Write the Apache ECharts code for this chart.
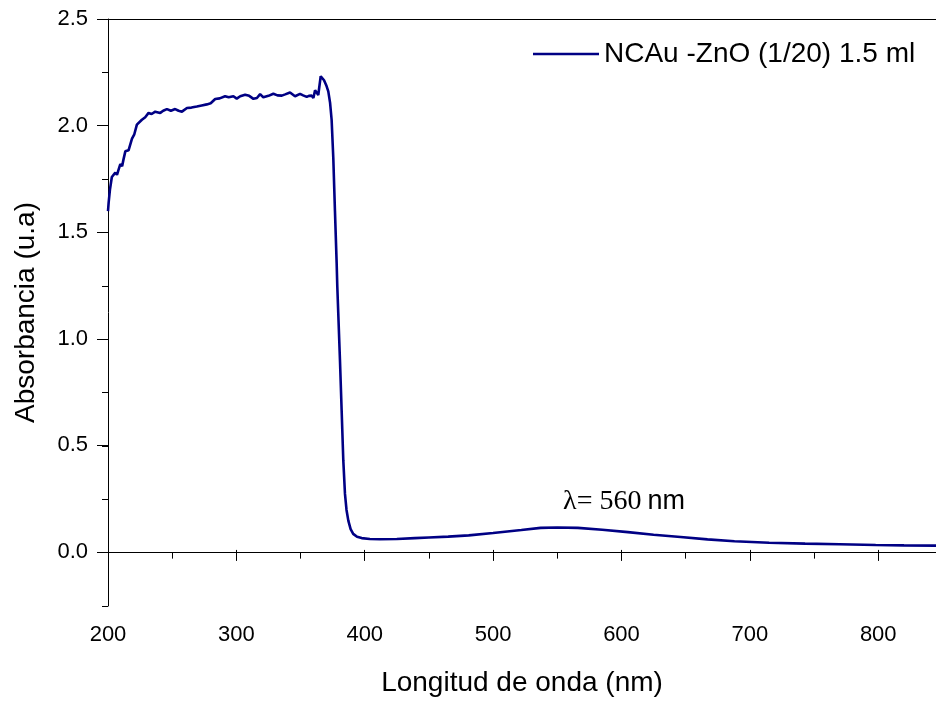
<!DOCTYPE html>
<html>
<head>
<meta charset="utf-8">
<script src="https://cdn.jsdelivr.net/npm/echarts@6/dist/echarts.min.js"></script>
<style>
html,body{margin:0;padding:0;background:#fff;}
#chart{width:936px;height:702px;}
</style>
</head>
<body>
<div id="chart"></div>
<script>
// 数据：波长(nm) 与 吸光度
const wavelength = [
	200, 200.5, 201.5, 203, 205.7, 207, 208, 209.6, 211, 212,
	213.5, 216, 218.7, 220.5, 222.5, 226.4, 229, 231.6, 234, 236.8,
	240.7, 243, 245.9, 249, 252.3, 255, 257.6, 261.5, 265, 269.2,
	273, 277, 280, 283.5, 287, 291.2, 294, 297.7, 300.3, 303,
	306.8, 310, 313.3, 316, 318.5, 321, 325, 328.8, 332, 335.4,
	338, 341.8, 345.7, 349.6, 352, 354.8, 356.5, 358.7, 360, 361.3,
	362.5, 363.8, 365.7, 367, 368.3, 370, 371.6, 373, 374.2, 375.5,
	376.8, 378.1, 378.6, 380.7, 382, 383.3, 384.6, 385.8, 387.2, 389,
	391, 394, 397.6, 404, 411.8, 425, 439, 450, 465, 481,
	500, 522, 537, 550, 566, 585, 605, 625, 646, 667,
	688, 715, 743, 770, 798, 820, 845
];
const absorbance = [
	1.60, 1.64, 1.70, 1.76, 1.78, 1.77, 1.79, 1.82, 1.81, 1.84,
	1.88, 1.885, 1.94, 1.96, 2.005, 2.028, 2.04, 2.06, 2.055, 2.066,
	2.06, 2.07, 2.078, 2.07, 2.078, 2.07, 2.066, 2.083, 2.085, 2.09,
	2.095, 2.10, 2.105, 2.125, 2.128, 2.138, 2.133, 2.138, 2.127, 2.138,
	2.145, 2.14, 2.126, 2.13, 2.148, 2.133, 2.14, 2.15, 2.142, 2.141,
	2.147, 2.156, 2.138, 2.149, 2.142, 2.135, 2.14, 2.141, 2.13, 2.166,
	2.16, 2.144, 2.232, 2.225, 2.213, 2.19, 2.161, 2.107, 2.028, 1.85,
	1.60, 1.36, 1.25, 0.901, 0.667, 0.432, 0.275, 0.20, 0.15, 0.11,
	0.088, 0.074, 0.068, 0.064, 0.063, 0.064, 0.068, 0.071, 0.075, 0.081,
	0.092, 0.106, 0.116, 0.118, 0.116, 0.107, 0.096, 0.084, 0.073, 0.062,
	0.053, 0.046, 0.042, 0.039, 0.036, 0.034, 0.033
];
const seriesName = 'NCAu -ZnO (1/20) 1.5 ml';
const peakLabel = ['λ= 560', 'nm'];
const peakLabelAt = [602, 0.24];

const X_MIN = 200, X_MAX = 845;
const Y_MIN = -0.25, Y_MAX = 2.5;
const FONT = '"Liberation Sans", Arial, sans-serif';
const LINE_COLOR = '#000084';

let points = [];
for (let i = 0; i < wavelength.length; i++) {
	points.push([wavelength[i], absorbance[i]]);
}

let myChart = echarts.init(document.getElementById('chart'));
let option = {
	animation: false,
	backgroundColor: '#fff',
	textStyle: { fontFamily: FONT },
	grid: [
		{ left: 108, top: 19, right: 0, bottom: 96 },
		// 只用于y刻度标签（0.0 ~ 2.5）
		{ left: 108, top: 19, right: 0, bottom: 150 },
		// 只用于x主刻度与标签
		{ left: 108, top: 19, right: 0, bottom: 96 }
	],
	legend: {
		left: 533,
		top: 40,
		padding: 0,
		icon: 'rect',
		itemWidth: 66,
		itemHeight: 2.5,
		itemGap: 8,
		textStyle: { fontSize: 28, color: '#000', fontFamily: FONT, padding: [0, 0, 0, 0] },
		data: [seriesName]
	},
	xAxis: [
		{
			gridIndex: 0,
			type: 'value',
			min: X_MIN,
			max: X_MAX,
			interval: 50,
			position: 'bottom',
			axisLine: { show: true, lineStyle: { color: '#000', width: 1 } },
			axisTick: { show: true, length: 6, lineStyle: { color: '#000' } },
			axisLabel: { show: false },
			splitLine: { show: false }
		},
		{
			gridIndex: 0,
			type: 'value',
			min: X_MIN,
			max: X_MAX,
			position: 'top',
			axisLine: { show: true, lineStyle: { color: '#000', width: 1 } },
			axisTick: { show: false },
			axisLabel: { show: false },
			splitLine: { show: false }
		},
		{
			gridIndex: 1,
			type: 'value',
			min: X_MIN,
			max: X_MAX,
			show: false
		},
		{
			gridIndex: 2,
			type: 'value',
			min: X_MIN,
			max: X_MAX,
			interval: 100,
			position: 'bottom',
			name: 'Longitud de onda (nm)',
			nameLocation: 'middle',
			nameGap: 66,
			nameTextStyle: { fontSize: 28, color: '#000', fontFamily: FONT },
			axisLine: { show: false },
			axisTick: { show: true, length: 11, lineStyle: { color: '#000' } },
			axisLabel: {
				fontSize: 22,
				color: '#000',
				margin: 21,
				fontFamily: FONT,
				showMaxLabel: false,
				formatter: function (v) { return v % 100 === 0 ? String(v) : ''; }
			},
			splitLine: { show: false }
		}
	],
	yAxis: [
		{
			gridIndex: 0,
			type: 'value',
			min: Y_MIN,
			max: Y_MAX,
			interval: 0.25,
			name: 'Absorbancia (u.a)',
			nameLocation: 'middle',
			nameGap: 68,
			nameTextStyle: { fontSize: 28, color: '#000', fontFamily: FONT },
			axisLine: { show: true, lineStyle: { color: '#000', width: 1 } },
			axisTick: { show: true, length: 6, lineStyle: { color: '#000' } },
			axisLabel: { show: false },
			splitLine: { show: false }
		},
		{
			gridIndex: 1,
			type: 'value',
			min: 0,
			max: Y_MAX,
			interval: 0.5,
			axisLine: { show: false },
			axisTick: { show: true, length: 11, lineStyle: { color: '#000' } },
			axisLabel: {
				fontSize: 22,
				color: '#000',
				margin: 20,
				fontFamily: FONT,
				formatter: function (v) { return v.toFixed(1); }
			},
			splitLine: { show: false }
		},
		{
			gridIndex: 2,
			type: 'value',
			min: Y_MIN,
			max: Y_MAX,
			show: false
		}
	],
	series: [
		{
			name: seriesName,
			type: 'line',
			xAxisIndex: 0,
			yAxisIndex: 0,
			data: points,
			symbol: 'none',
			smooth: false,
			lineStyle: { color: LINE_COLOR, width: 2.6 },
			itemStyle: { color: LINE_COLOR },
			markPoint: {
				symbol: 'circle',
				symbolSize: 0,
				silent: true,
				label: {
					show: true,
					position: 'inside',
					fontSize: 22,
					formatter: '{a|' + peakLabel[0] + '} {b|' + peakLabel[1] + '}',
					rich: {
						a: { fontFamily: '"Liberation Serif", "Times New Roman", serif', fontSize: 28, color: '#000' },
						b: { fontFamily: FONT, fontSize: 27, color: '#000' }
					}
				},
				data: [{ coord: peakLabelAt }]
			}
		}
	]
};
myChart.setOption(option);
</script>
</body>
</html>
